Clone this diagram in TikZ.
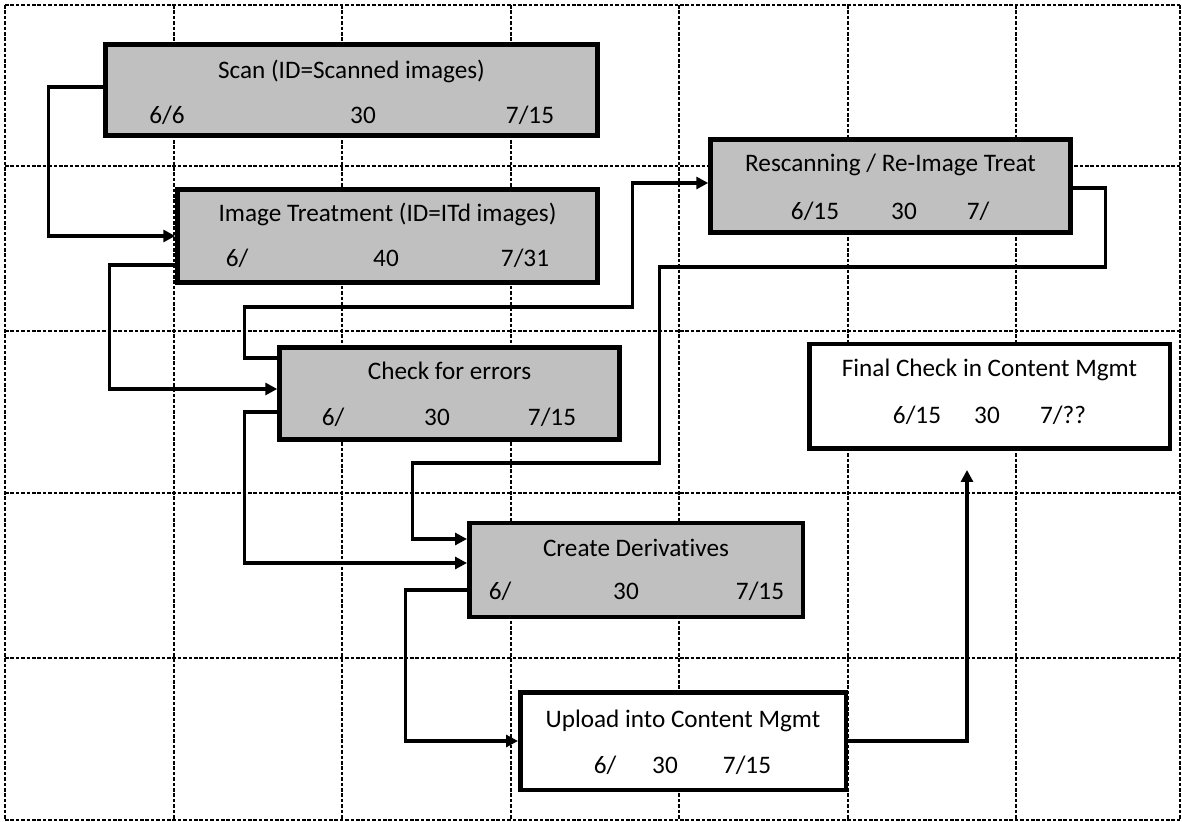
\documentclass[tikz,border=0pt]{standalone}
\usepackage{fontspec}
\setmainfont{Carlito}[Ligatures={NoCommon}]
\usetikzlibrary{arrows.meta}
\definecolor{boxgray}{HTML}{C0C0C0}
\begin{document}
\begin{tikzpicture}[x=0.5pt,y=-0.5pt,
  gridline/.style={line width=0.6pt, dash pattern=on 1.8pt off 0.9pt},
  procbox/.style={draw, line width=2.25pt, fill=boxgray, inner sep=0pt},
  whitebox/.style={procbox, fill=white},
  lbl/.style={anchor=base, inner sep=0pt, font=\fontsize{12.6pt}{15pt}\selectfont},
  conn/.style={line width=1.7pt, -{Triangle[length=6pt,width=6pt]}}]
\fill[white] (0,0) rectangle (1182,822);
\useasboundingbox (0,0) rectangle (1182,822);
% grid
\foreach \gx in {5,174,342,511,679,848,1016,1180}
  \draw[gridline] (\gx,5) -- (\gx,820);
\foreach \gy in {5,166,331,493,658,820}
  \draw[gridline] (5,\gy) -- (1180,\gy);
% boxes
\node[procbox, minimum width=246pt, minimum height=45.5pt] (scan) at (351.5,90) {};
\node[procbox, minimum width=210pt, minimum height=46.5pt] (it) at (387.5,236) {};
\node[procbox, minimum width=180pt, minimum height=46.5pt] (rescan) at (890.5,186) {};
\node[procbox, minimum width=170pt, minimum height=46pt] (check) at (449.5,393.5) {};
\node[procbox, minimum width=166.75pt, minimum height=47pt] (create) at (636,570) {};
\node[whitebox, minimum width=162.75pt, minimum height=48.75pt] (upload) at (683,741) {};
\node[whitebox, minimum width=180.25pt, minimum height=52.25pt] (final) at (989.5,396.5) {};
% labels
\node[lbl] (scanT) at (351.5,79) {Scan (ID=Scanned images)};
\node[lbl] (scanA) at (167,124) {6/6};
\node[lbl] (scanB) at (363,124) {30};
\node[lbl] (scanC) at (530,124) {7/15};
\node[lbl] (itT) at (387.5,222) {Image Treatment (ID=ITd images)};
\node[lbl] (itA) at (237,267) {6/};
\node[lbl] (itB) at (386,267) {40};
\node[lbl] (itC) at (525,267) {7/31};
\node[lbl] (rescanT) at (890.5,172) {Rescanning / Re-Image Treat};
\node[lbl] (rescanA) at (815,220) {6/15};
\node[lbl] (rescanB) at (904,220) {30};
\node[lbl] (rescanC) at (978,220) {7/};
\node[lbl] (checkT) at (449.5,380) {Check for errors};
\node[lbl] (checkA) at (333,426) {6/};
\node[lbl] (checkB) at (437,426) {30};
\node[lbl] (checkC) at (552,426) {7/15};
\node[lbl] (createT) at (636,557) {Create Derivatives};
\node[lbl] (createA) at (500,600) {6/};
\node[lbl] (createB) at (626,600) {30};
\node[lbl] (createC) at (760,600) {7/15};
\node[lbl] (uploadT) at (683,727) {Upload into Content Mgmt};
\node[lbl] (uploadA) at (605,773) {6/};
\node[lbl] (uploadB) at (665,773) {30};
\node[lbl] (uploadC) at (747,773) {7/15};
\node[lbl] (finalT) at (989.5,377) {Final Check in Content Mgmt};
\node[lbl] (finalA) at (917,424) {6/15};
\node[lbl] (finalB) at (987,424) {30};
\node[lbl] (finalC) at (1063,424) {7/??};
% connectors
\draw[conn] ([yshift=1.5pt]scan.west) -- ++(-54.5,0) |- (it.west);
\draw[conn] ([yshift=-14.5pt]it.west) -- ++(-65.5,0) |- ([yshift=2.25pt]check.west);
\draw[conn] ([yshift=17.75pt]check.west) -- ++(-32.5,0) -- ++(0,-51) -- ++(388,0) |- ([yshift=1.5pt]rescan.west);
\draw[conn] ([yshift=-1pt]rescan.east) -- ++(32.5,0) -- ++(0,79) -- ++(-446,0) -- ++(0,196) -- ++(-247,0) |- ([yshift=15.5pt]create.west);
\draw[conn] ([yshift=-9.25pt]check.west) -- ++(-32.5,0) |- ([yshift=3.5pt]create.west);
\draw[conn] ([yshift=-10pt]create.west) -- ++(-61.5,0) |- (upload.west);
\draw[conn] (upload.east) -| ([xshift=-11.25pt,yshift=-9.5pt]final.south);
\end{tikzpicture}
\end{document}
